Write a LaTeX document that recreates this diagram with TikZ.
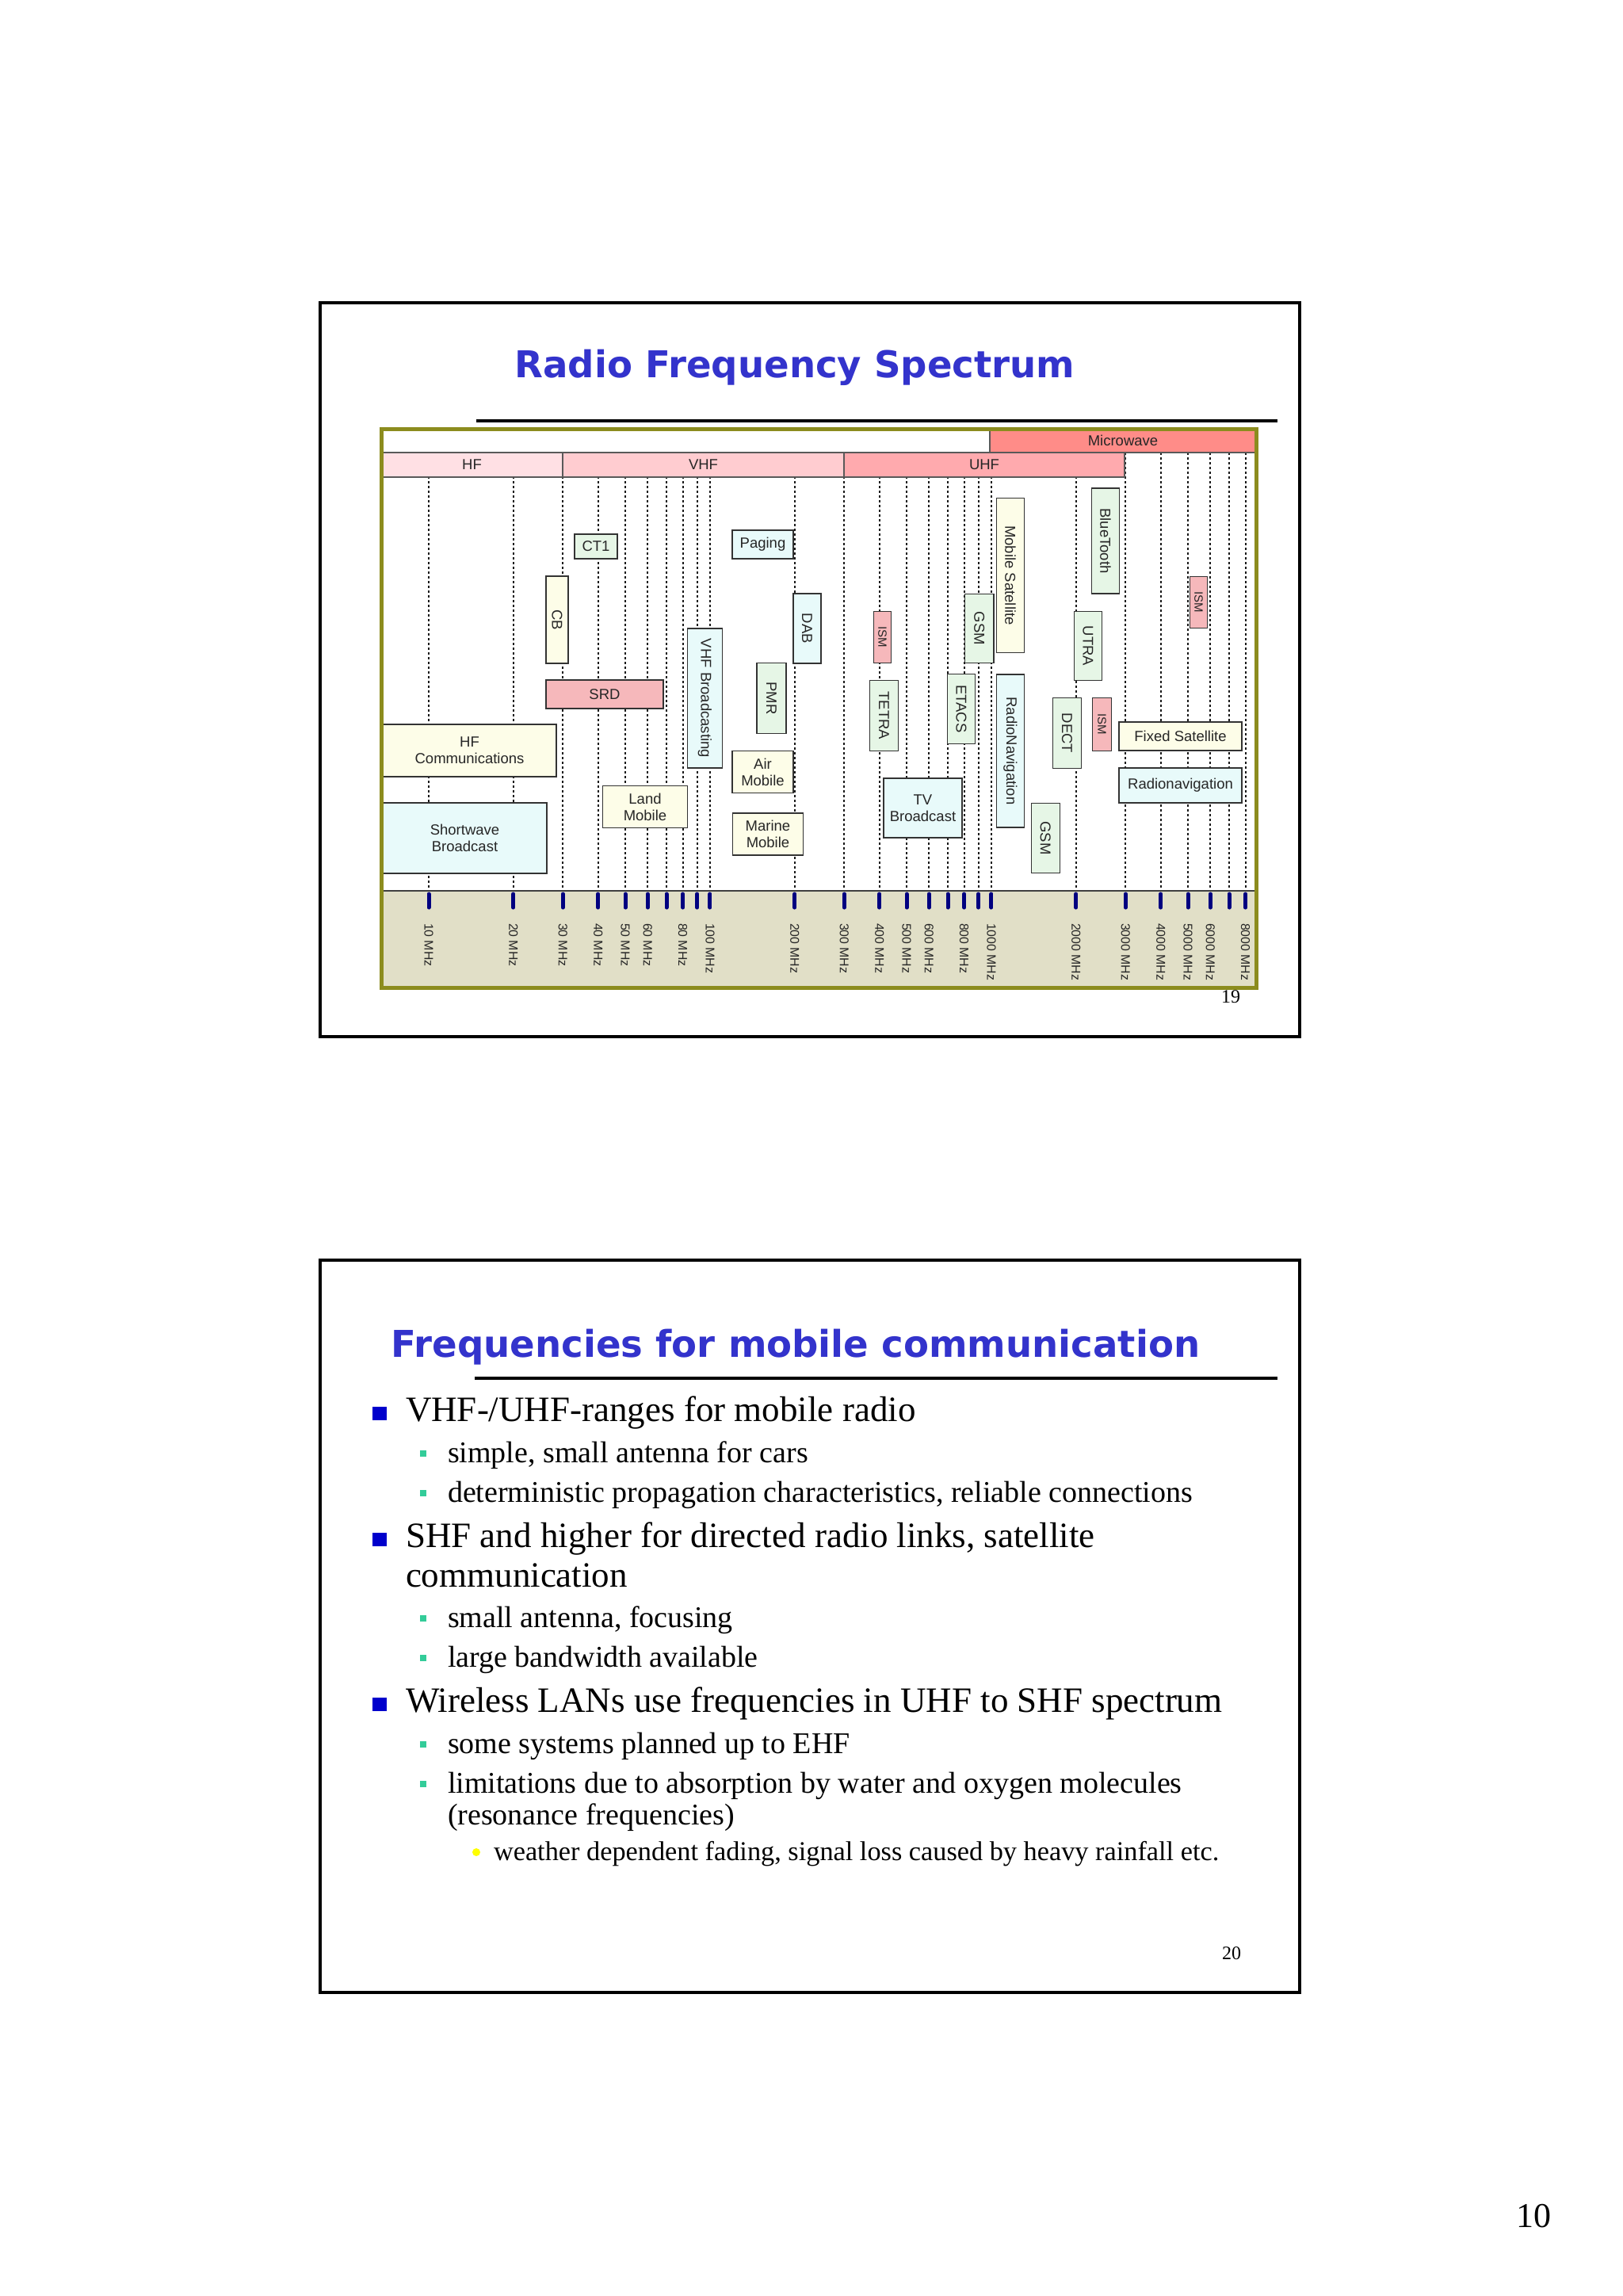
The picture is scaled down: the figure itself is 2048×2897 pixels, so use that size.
\documentclass[tikz,border=0pt]{standalone}
\usepackage{fontspec}
\setmainfont{Liberation Serif}
\setsansfont{Liberation Sans}
\newfontfamily\headfont{DejaVu Sans}
\usepackage{xcolor}
\definecolor{headblue}{HTML}{3333CC}
\definecolor{olivebd}{HTML}{8C8C1E}
\definecolor{axisbg}{HTML}{E1DFC7}
\definecolor{tickblue}{HTML}{000080}
\definecolor{hfband}{HTML}{FFE0E4}
\definecolor{vhfband}{HTML}{FFCCD0}
\definecolor{uhfband}{HTML}{FFAAAE}
\definecolor{mwband}{HTML}{FF8C88}
\definecolor{svgreen}{HTML}{E6F6E6}
\definecolor{svcyan}{HTML}{E8FAFA}
\definecolor{svyellow}{HTML}{FDFDE8}
\definecolor{svpink}{HTML}{F6B8BB}
\definecolor{bulblue}{HTML}{0000CC}
\definecolor{bulgreen}{HTML}{33CC99}
\definecolor{bulyellow}{HTML}{FFFF00}

\begin{document}
\begin{tikzpicture}[x=1pt, y=-1pt,
    every node/.style={inner sep=0pt, outer sep=0pt},
    chartfont/.style={font=\sffamily\fontsize{18.5}{21}\selectfont, text=black!85},
    slide/.style={draw=black, line width=3.5pt},
    headrule/.style={draw=black, line width=3.5pt},
    headline/.style={anchor=base, text=headblue, font=\headfont\bfseries\fontsize{46.6}{52}\selectfont},
    band/.style={chartfont, draw=black!65, line width=1.3pt},
    hbox/.style={chartfont, draw=black!80, line width=1.3pt, align=center},
    vbox/.style={hbox, rotate=-90},
    ismbox/.style={vbox, fill=svpink, font=\sffamily\fontsize{15}{18}\selectfont},
    gridline/.style={line width=2pt, dash pattern=on 2.5pt off 3.5pt, black!90},
    axtick/.style={line width=5pt, line cap=round, tickblue},
    freqlabel/.style={rotate=-90, anchor=west, text=black!85, font=\sffamily\fontsize{15.8}{18}\selectfont},
    lvlone/.style={anchor=base west, font=\fontsize{45}{50}\selectfont},
    lvltwo/.style={anchor=base west, font=\fontsize{38}{44}\selectfont},
    lvlthree/.style={anchor=base west, font=\fontsize{34.3}{40}\selectfont},
    pagenum/.style={anchor=base east, font=\fontsize{24}{28}\selectfont}
]
\useasboundingbox (0,0) rectangle (2048,2897);
\fill[white] (0,0) rectangle (2048,2897);

% slide frames
\draw[slide] (404,382) rectangle (1640,1308);
\draw[slide] (404,1590) rectangle (1640,2514);

% --- slide 19: spectrum chart
\node[headline] (spectitle) at (1003,476) {Radio Frequency Spectrum};
\draw[headrule] (601,531) -- (1612,531);

\fill[axisbg] (481,1124) rectangle (1585,1246);
\foreach \f in {10,20,30,40,50,60,70,80,90,100,200,300,400,500,600,700,800,900,1000,2000,3000,4000,5000,6000,7000,8000}{
    \pgfmathsetmacro\fx{541+355*(log10(\f)-1)}
    \draw[gridline] (\fx,571) -- (\fx,1124);
}

% frequency bands
\node[band, fill=mwband, minimum width=336, minimum height=30] (mw) at (1417,556) {Microwave};
\node[band, fill=hfband, minimum width=229, minimum height=31] (hf) at (595.5,586.5) {HF};
\node[band, fill=vhfband, minimum width=355, minimum height=31] (vhf) at (887.5,586.5) {VHF};
\node[band, fill=uhfband, minimum width=354, minimum height=31] (uhf) at (1242,586.5) {UHF};

% services
\node[hbox, fill=svgreen, minimum width=54, minimum height=31] (ct1) at (752,689.5) {CT1};
\node[hbox, fill=svcyan, minimum width=77, minimum height=36] (paging) at (962.5,687) {Paging};
\node[vbox, fill=svyellow, minimum width=110, minimum height=28] (cb) at (703,782) {CB};
\node[vbox, fill=svcyan, minimum width=88, minimum height=35] (dab) at (1018.5,793) {DAB};
\node[hbox, fill=svpink, minimum width=148, minimum height=36] (srd) at (763,876) {SRD};
\node[vbox, fill=svcyan, minimum width=176, minimum height=44] (vhfbc) at (889.5,881) {VHF Broadcasting};
\node[vbox, fill=svgreen, minimum width=88.5, minimum height=37] (pmr) at (973.5,881) {PMR};
\node[hbox, fill=svyellow, minimum width=219, minimum height=66] (hfcomm) at (592.5,947) {HF\\Communications};
\node[hbox, fill=svyellow, minimum width=77, minimum height=53] (airmob) at (962.5,974) {Air\\Mobile};
\node[hbox, fill=svyellow, minimum width=107, minimum height=53] (landmob) at (814,1018) {Land\\Mobile};
\node[hbox, fill=svyellow, minimum width=89, minimum height=53] (marinemob) at (969,1052.5) {Marine\\Mobile};
\node[hbox, fill=svcyan, minimum width=207, minimum height=89] (shortwave) at (586.5,1057.5) {Shortwave\\Broadcast};

\node[ismbox, minimum width=65.5, minimum height=22] (ism433) at (1113.5,804) {ISM};
\node[vbox, fill=svgreen, minimum width=89, minimum height=36] (tetra) at (1115.5,903) {TETRA};
\node[hbox, fill=svcyan, minimum width=99, minimum height=75] (tvbc) at (1164.5,1019.5) {TV\\Broadcast};
\node[vbox, fill=svgreen, minimum width=87.5, minimum height=35] (etacs) at (1213,894.5) {ETACS};
\node[vbox, fill=svgreen, minimum width=87.5, minimum height=36.5] (gsm900) at (1235.75,793) {GSM};
\node[vbox, fill=svyellow, minimum width=194.5, minimum height=34.5] (mobsat) at (1275,726) {Mobile Satellite};
\node[vbox, fill=svcyan, minimum width=193, minimum height=35] (radionav) at (1275,947.5) {RadioNavigation};
\node[vbox, fill=svgreen, minimum width=88.5, minimum height=36] (gsm1800) at (1319.3,1057.5) {GSM};
\node[vbox, fill=svgreen, minimum width=89, minimum height=36] (dect) at (1346.5,925) {DECT};
\node[vbox, fill=svgreen, minimum width=87.5, minimum height=35] (utra) at (1373,815) {UTRA};
\node[vbox, fill=svgreen, minimum width=133, minimum height=35] (bluetooth) at (1395,682.5) {BlueTooth};
\node[ismbox, minimum width=67, minimum height=24] (ism2400) at (1390.5,914) {ISM};
\node[ismbox, minimum width=65.5, minimum height=22] (ism5800) at (1512.5,760) {ISM};
\node[hbox, fill=svyellow, minimum width=155, minimum height=36] (fixedsat) at (1489.5,929) {Fixed Satellite};
\node[hbox, fill=svcyan, minimum width=155, minimum height=44] (radnav) at (1489.5,991) {Radionavigation};

% frequency axis
\draw[line width=1.5pt, black!75] (481,1124) -- (1585,1124);
\foreach \f in {10,20,30,40,50,60,70,80,90,100,200,300,400,500,600,700,800,900,1000,2000,3000,4000,5000,6000,7000,8000}{
    \pgfmathsetmacro\fx{541+355*(log10(\f)-1)}
    \draw[axtick] (\fx,1128) -- (\fx,1145);
}
\foreach \f in {10,20,30,40,50,60,80,100,200,300,400,500,600,800,1000,2000,3000,4000,5000,6000,8000}{
    \pgfmathsetmacro\fx{541+355*(log10(\f)-1)}
    \node[freqlabel] (fq\f) at (\fx,1165) {\f\ MHz};
}
\draw[line width=5pt, olivebd] (481,541) rectangle (1585,1246);
\node[pagenum] (pgnineteen) at (1565,1265) {19};

% --- slide 20: bullet list
\node[headline] (mobtitle) at (1004,1712) {Frequencies for mobile communication};
\draw[headrule] (599,1739) -- (1612,1739);

\foreach \b in {1793,1952,2160}
    \fill[bulblue] (470,\b-18) rectangle (488,\b-1);
\foreach \b in {1845,1895,2053,2103,2212,2262}
    \fill[bulgreen] (530,\b-15) rectangle (538,\b-7);
\fill[bulyellow] (601,2337) circle (5pt);

\node[lvlone] (vhfuhf) at (512,1793) {VHF-/UHF-ranges for mobile radio};
\node[lvltwo] (cars) at (565,1845) {simple, small antenna for cars};
\node[lvltwo] (determ) at (565,1895) {deterministic propagation characteristics, reliable connections};
\node[lvlone] (shf) at (512,1952) {SHF and higher for directed radio links, satellite};
\node[lvlone] (shfb) at (512,2002) {communication};
\node[lvltwo] (focus) at (565,2053) {small antenna, focusing};
\node[lvltwo] (bandw) at (565,2103) {large bandwidth available};
\node[lvlone] (wlan) at (512,2160) {Wireless LANs use frequencies in UHF to SHF spectrum};
\node[lvltwo] (ehf) at (565,2212) {some systems planned up to EHF};
\node[lvltwo] (absorb) at (565,2262) {limitations due to absorption by water and oxygen molecules};
\node[lvltwo] (absorbb) at (565,2302) {(resonance frequencies)};
\node[lvlthree] (rain) at (623,2347) {weather dependent fading, signal loss caused by heavy rainfall etc.};
\node[pagenum] (pgtwenty) at (1566,2472) {20};

\node[anchor=base east, font=\fontsize{44}{50}\selectfont] (sheetnum) at (1957,2810) {10};
\end{tikzpicture}
\end{document}
